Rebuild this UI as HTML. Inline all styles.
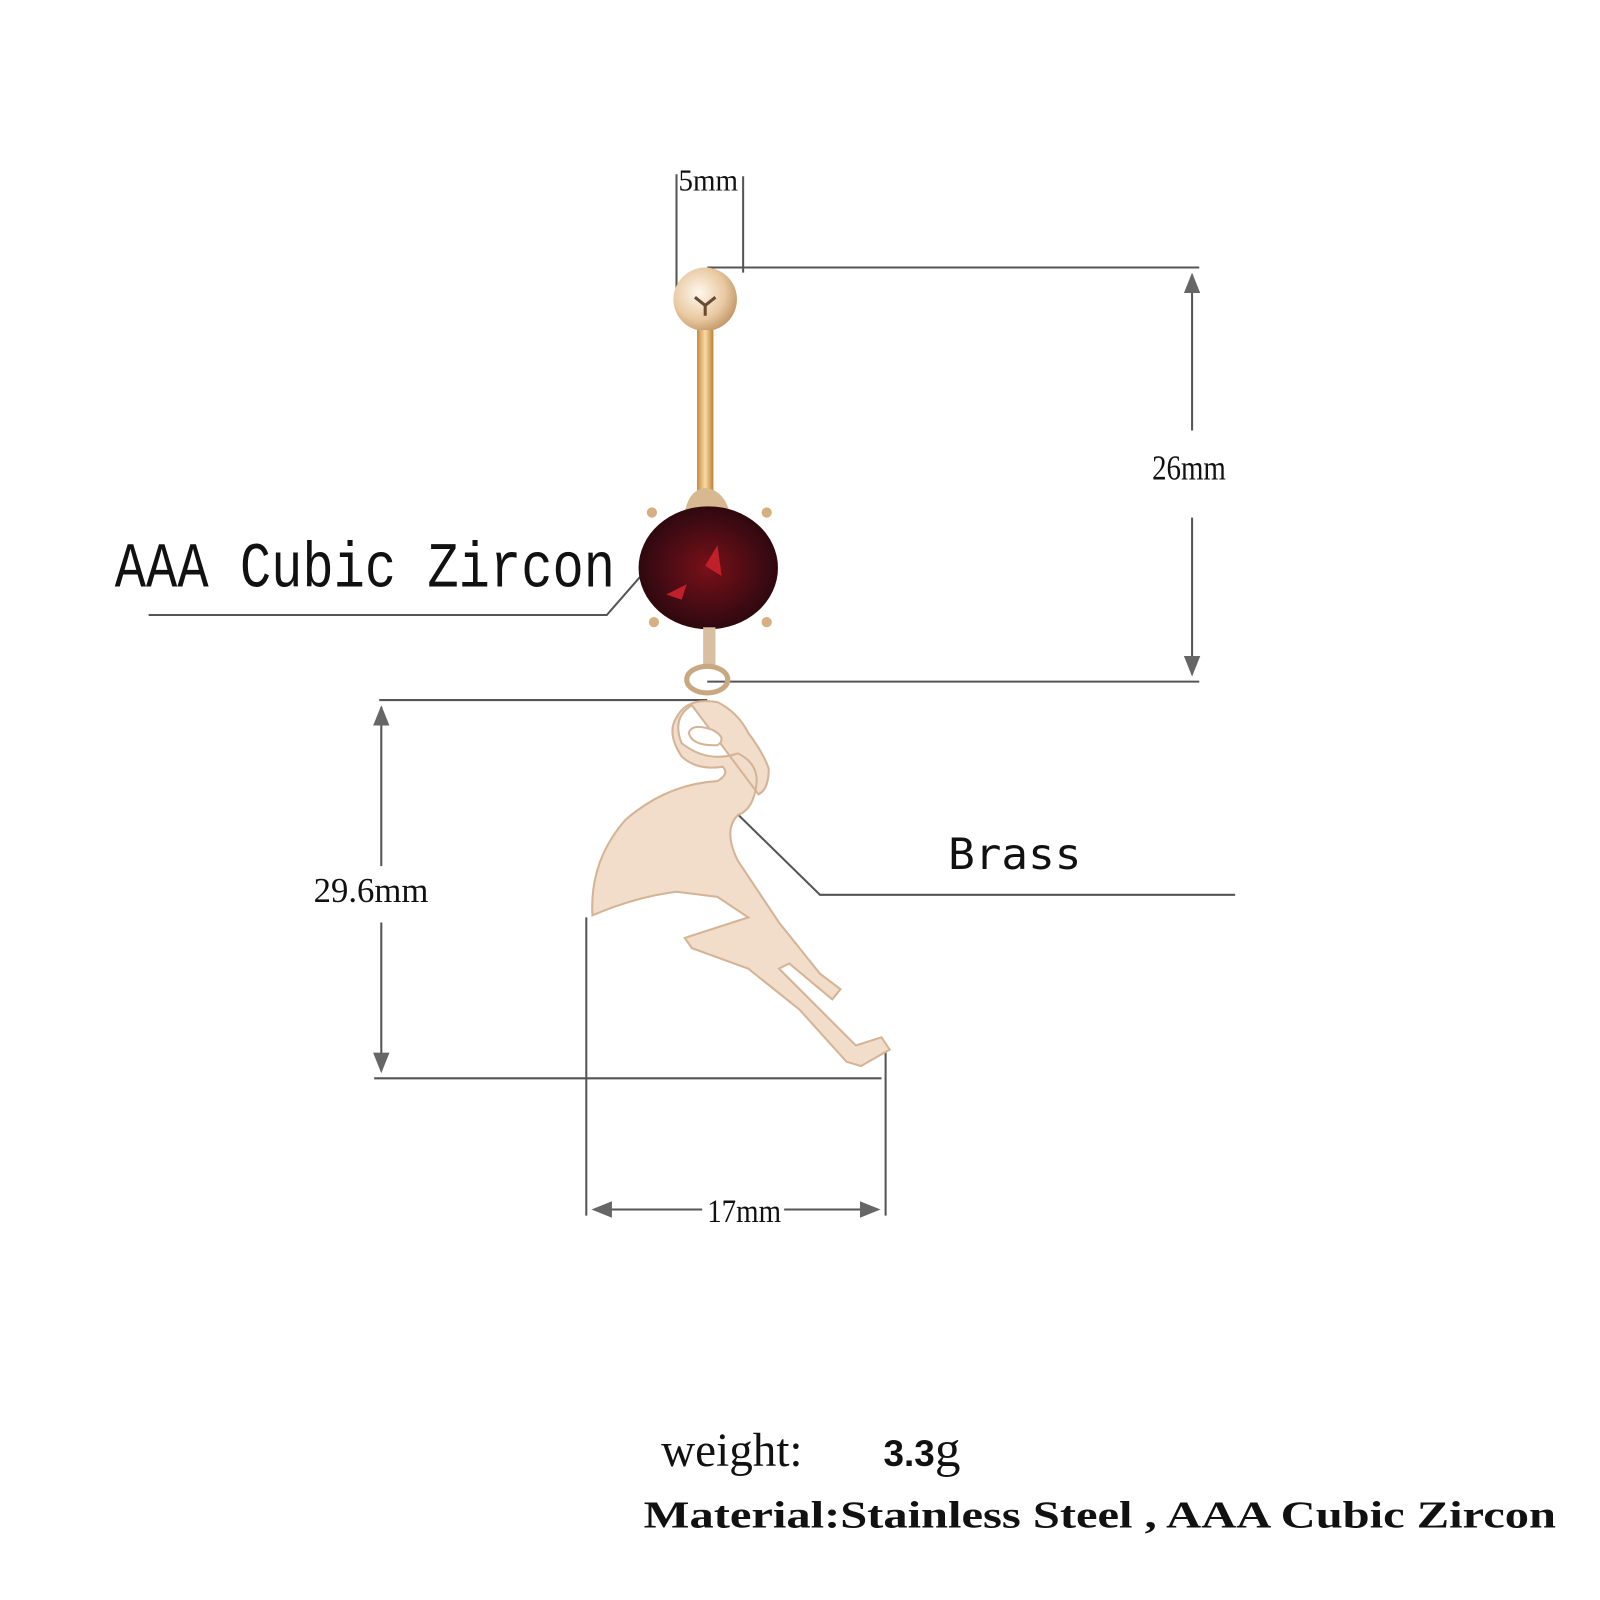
<!DOCTYPE html>
<html><head><style>body{margin:0;background:#fff}svg{display:block}</style></head><body>
<svg width="1600" height="1600" viewBox="0 0 1600 1600" xmlns="http://www.w3.org/2000/svg">
<defs>
<radialGradient id="ball" cx="0.4" cy="0.4" r="0.7"><stop offset="0" stop-color="#fff8ee"/><stop offset="0.6" stop-color="#e8c8a0"/><stop offset="1" stop-color="#b88a58"/></radialGradient>
<linearGradient id="bar" x1="0" x2="1"><stop offset="0" stop-color="#c88a3a"/><stop offset="0.5" stop-color="#f6dca8"/><stop offset="1" stop-color="#c08030"/></linearGradient>
<radialGradient id="gem" cx="0.5" cy="0.5" r="0.6"><stop offset="0" stop-color="#7a1018"/><stop offset="0.7" stop-color="#3a0a12"/><stop offset="1" stop-color="#220408"/></radialGradient>
<marker id="ar" viewBox="0 0 10 10" refX="9" refY="5" markerWidth="10" markerHeight="12" orient="auto-start-reverse"><path d="M0,1 L10,5 L0,9 z" fill="#666"/></marker>
</defs>
<g transform="scale(1.025)">
<g stroke="#555" stroke-width="2" fill="none">
<line x1="660" y1="170" x2="660" y2="282"/><line x1="725" y1="172" x2="725" y2="266"/>
<line x1="690" y1="261" x2="1170" y2="261"/>
<line x1="690" y1="665" x2="1170" y2="665"/>
<line x1="1163" y1="420" x2="1163" y2="268" marker-end="url(#ar)"/>
<line x1="1163" y1="505" x2="1163" y2="658" marker-end="url(#ar)"/>
<line x1="370" y1="683" x2="690" y2="683"/>
<line x1="365" y1="1052" x2="860" y2="1052"/>
<line x1="372" y1="845" x2="372" y2="690" marker-end="url(#ar)"/>
<line x1="372" y1="900" x2="372" y2="1045" marker-end="url(#ar)"/>
<line x1="572" y1="895" x2="572" y2="1186"/><line x1="864" y1="1020" x2="864" y2="1186"/>
<line x1="685" y1="1180" x2="579" y2="1180" marker-end="url(#ar)"/>
<line x1="765" y1="1180" x2="857" y2="1180" marker-end="url(#ar)"/>
<polyline points="145,600 592,600 640,545"/>
<polyline points="705,780 800,873 1205,873"/>
</g>
<circle cx="688" cy="292" r="31" fill="url(#ball)"/>
<path d="M678 290 l10 8 l10 -8 M688 298 v10" stroke="#6a4a30" stroke-width="3" fill="none"/>
<rect x="680" y="322" width="16" height="160" fill="url(#bar)"/>
<path d="M668 500 Q672 478 688 476 Q706 478 712 500 z" fill="#d8b890"/>
<g fill="#d6b080"><circle cx="636" cy="500" r="5"/><circle cx="748" cy="500" r="5"/><circle cx="638" cy="607" r="5"/><circle cx="748" cy="607" r="5"/></g>
<ellipse cx="691" cy="554" rx="68" ry="60" fill="url(#gem)"/>
<path d="M688 552 l12 -20 l4 30 z M650 580 l20 -10 l-5 15z" fill="#c0202a"/>
<rect x="686" y="612" width="12" height="38" fill="#d8bfa0"/>
<ellipse cx="690" cy="663" rx="20" ry="13" fill="none" stroke="#c8a880" stroke-width="5"/>
<g fill="#f1ddca" stroke="#d4b496" stroke-width="2">
<path d="M675 688 Q655 700 665 725 Q690 745 720 735 Q740 745 738 765 Q735 790 720 795 Q705 810 720 840 L740 870 L760 900 L800 950 L820 965 L812 975 L770 940 L760 945 L790 975 L835 1020 L860 1012 L868 1024 L840 1040 L826 1036 L780 985 L730 945 L675 925 L668 915 L730 895 L700 875 L660 870 Q620 875 578 893 Q575 840 610 800 Q650 765 700 762 Q712 755 705 748 Q680 752 665 738 Q650 715 660 700 Q670 680 700 685 Q720 695 730 715 Q745 735 750 750 Q750 770 740 775 Z"/>
</g>
<path d="M700 727 Q675 728 672 715 Q675 705 695 712 Q710 720 700 727 Z" fill="#fff" stroke="#d4b496" stroke-width="2"/>
<g font-family="'Liberation Serif',serif" fill="#111">
<text x="662" y="186" font-size="30" textLength="58" lengthAdjust="spacingAndGlyphs">5mm</text>
<text x="1124" y="468" font-size="34" textLength="72" lengthAdjust="spacingAndGlyphs">26mm</text>
<text x="306" y="880" font-size="34" textLength="112" lengthAdjust="spacingAndGlyphs">29.6mm</text>
<text x="690" y="1192" font-size="32" textLength="72" lengthAdjust="spacingAndGlyphs">17mm</text>
<text x="112" y="572" font-size="62" font-family="'Liberation Mono',monospace" textLength="488" lengthAdjust="spacingAndGlyphs">AAA Cubic Zircon</text>
<text x="925" y="848" font-size="42" font-family="'DejaVu Sans Mono',monospace" textLength="130" lengthAdjust="spacingAndGlyphs">Brass</text>
<text x="645" y="1430" font-size="46">weight:</text>
<text x="862" y="1430" font-size="36" font-weight="bold" font-family="'Liberation Sans',sans-serif">3.3<tspan font-family="'Liberation Serif',serif" font-size="50" font-weight="normal">g</tspan></text>
<text x="628" y="1490" font-size="37" font-weight="bold" textLength="890" lengthAdjust="spacingAndGlyphs">Material:Stainless Steel ,  AAA Cubic Zircon</text>
</g>
</g>
</svg>
</body></html>
